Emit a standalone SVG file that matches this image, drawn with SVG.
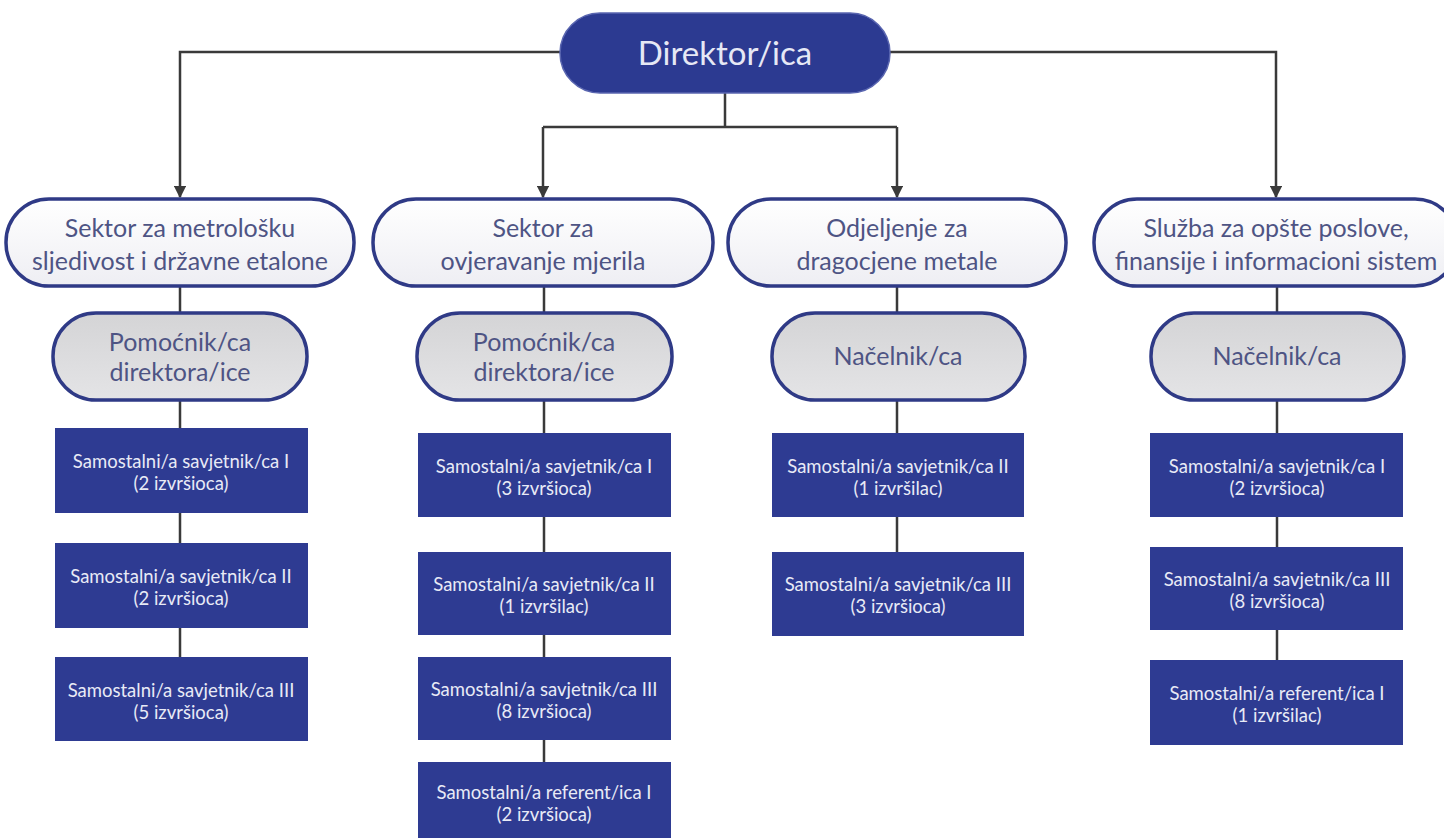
<svg xmlns="http://www.w3.org/2000/svg" width="1444" height="838" viewBox="0 0 1444 838">
<defs>
<linearGradient id="gw" x1="0" y1="0" x2="0" y2="1"><stop offset="0" stop-color="#ffffff"/><stop offset="1" stop-color="#eeeef3"/></linearGradient>
<linearGradient id="gg" x1="0" y1="0" x2="0" y2="1"><stop offset="0" stop-color="#d4d4d6"/><stop offset="1" stop-color="#e4e4e6"/></linearGradient>
<marker id="arr" viewBox="0 0 10 10" refX="9" refY="5" markerWidth="5" markerHeight="5" orient="auto"><path d="M0,0 L10,5 L0,10 z" fill="#3a3a3a"/></marker>
<style>
.ln{stroke:#3a3a3a;stroke-width:2.5;fill:none}
.dir{fill:#2c3a91;stroke:#5a66b0;stroke-width:1.5}
.sec{fill:url(#gw);stroke:#2f3a86;stroke-width:3.5}
.head{fill:url(#gg);stroke:#2f3a86;stroke-width:3.5}
.box{fill:#2e3b92}
.t{font-family:Lato,"Liberation Sans",sans-serif;text-anchor:middle}
.td{fill:#e6e8f5;font-size:33px}
.ts{fill:#4e5484;font-size:25px}
.tb{fill:#e8eaf6;font-size:18.5px}
</style>
</defs>
<rect width="1444" height="838" fill="#ffffff"/>
<g id="connectors">
<path class="ln" d="M560,52 H180 V197" marker-end="url(#arr)"/>
<path class="ln" d="M890,52 H1276 V197" marker-end="url(#arr)"/>
<path class="ln" d="M725,93 V127 M543,127 H897" />
<path class="ln" d="M543,127 V197" marker-end="url(#arr)"/>
<path class="ln" d="M897,127 V197" marker-end="url(#arr)"/>
<path class="ln" d="M180,286 V313 M180,400 V428 M180,513 V543 M180,628 V657"/>
<path class="ln" d="M544,286 V313 M544,400 V433 M544,517 V552 M544,635 V657 M544,740 V762"/>
<path class="ln" d="M897,286 V313 M897,400 V433 M897,517 V552"/>
<path class="ln" d="M1277,286 V313 M1277,400 V433 M1277,517 V547 M1277,630 V660"/>
</g>
<g id="director"><rect class="dir" x="560" y="13" width="330" height="80" rx="40"/><text class="t td" x="725" y="65">Direktor/ica</text></g>
<g id="sektor1"><rect class="sec" x="6" y="199" width="348" height="87" rx="43"/><text class="t ts" x="180" y="237">Sektor za metrološku</text><text class="t ts" x="180" y="270">sljedivost i državne etalone</text></g>
<g id="sektor2"><rect class="sec" x="373" y="199" width="340" height="87" rx="43"/><text class="t ts" x="543" y="237">Sektor za</text><text class="t ts" x="543" y="270">ovjeravanje mjerila</text></g>
<g id="odjeljenje"><rect class="sec" x="728" y="199" width="338" height="87" rx="43"/><text class="t ts" x="897" y="237">Odjeljenje za</text><text class="t ts" x="897" y="270">dragocjene metale</text></g>
<g id="sluzba"><rect class="sec" x="1094" y="199" width="364" height="87" rx="43"/><text class="t ts" x="1276" y="237">Služba za opšte poslove,</text><text class="t ts" x="1276" y="270">finansije i informacioni sistem</text></g>
<g id="pomocnik1"><rect class="head" x="53" y="313" width="254" height="87" rx="43"/><text class="t ts" x="180" y="351">Pomoćnik/ca</text><text class="t ts" x="180" y="381">direktora/ice</text></g>
<g id="pomocnik2"><rect class="head" x="417" y="313" width="255" height="87" rx="43"/><text class="t ts" x="544" y="351">Pomoćnik/ca</text><text class="t ts" x="544" y="381">direktora/ice</text></g>
<g id="nacelnik3"><rect class="head" x="772" y="313" width="253" height="87" rx="43"/><text class="t ts" x="898" y="365">Načelnik/ca</text></g>
<g id="nacelnik4"><rect class="head" x="1151" y="313" width="253" height="87" rx="43"/><text class="t ts" x="1277" y="365">Načelnik/ca</text></g>
<g id="c1b1"><rect class="box" x="55" y="428" width="253" height="85"/><text class="t tb" x="181" y="468">Samostalni/a savjetnik/ca I</text><text class="t tb" x="181" y="490">(2 izvršioca)</text></g>
<g id="c1b2"><rect class="box" x="55" y="543" width="253" height="85"/><text class="t tb" x="181" y="583">Samostalni/a savjetnik/ca II</text><text class="t tb" x="181" y="605">(2 izvršioca)</text></g>
<g id="c1b3"><rect class="box" x="55" y="657" width="253" height="84"/><text class="t tb" x="181" y="697">Samostalni/a savjetnik/ca III</text><text class="t tb" x="181" y="719">(5 izvršioca)</text></g>
<g id="c2b1"><rect class="box" x="418" y="433" width="253" height="84"/><text class="t tb" x="544" y="473">Samostalni/a savjetnik/ca I</text><text class="t tb" x="544" y="495">(3 izvršioca)</text></g>
<g id="c2b2"><rect class="box" x="418" y="552" width="253" height="83"/><text class="t tb" x="544" y="591">Samostalni/a savjetnik/ca II</text><text class="t tb" x="544" y="613">(1 izvršilac)</text></g>
<g id="c2b3"><rect class="box" x="418" y="657" width="253" height="83"/><text class="t tb" x="544" y="696">Samostalni/a savjetnik/ca III</text><text class="t tb" x="544" y="718">(8 izvršioca)</text></g>
<g id="c2b4"><rect class="box" x="418" y="762" width="253" height="76"/><text class="t tb" x="544" y="799">Samostalni/a referent/ica I</text><text class="t tb" x="544" y="821">(2 izvršioca)</text></g>
<g id="c3b1"><rect class="box" x="772" y="433" width="252" height="84"/><text class="t tb" x="898" y="473">Samostalni/a savjetnik/ca II</text><text class="t tb" x="898" y="495">(1 izvršilac)</text></g>
<g id="c3b2"><rect class="box" x="772" y="552" width="252" height="84"/><text class="t tb" x="898" y="591">Samostalni/a savjetnik/ca III</text><text class="t tb" x="898" y="613">(3 izvršioca)</text></g>
<g id="c4b1"><rect class="box" x="1150" y="433" width="253" height="84"/><text class="t tb" x="1277" y="473">Samostalni/a savjetnik/ca I</text><text class="t tb" x="1277" y="495">(2 izvršioca)</text></g>
<g id="c4b2"><rect class="box" x="1150" y="547" width="253" height="83"/><text class="t tb" x="1277" y="586">Samostalni/a savjetnik/ca III</text><text class="t tb" x="1277" y="608">(8 izvršioca)</text></g>
<g id="c4b3"><rect class="box" x="1150" y="660" width="253" height="85"/><text class="t tb" x="1277" y="700">Samostalni/a referent/ica I</text><text class="t tb" x="1277" y="722">(1 izvršilac)</text></g>
</svg>
